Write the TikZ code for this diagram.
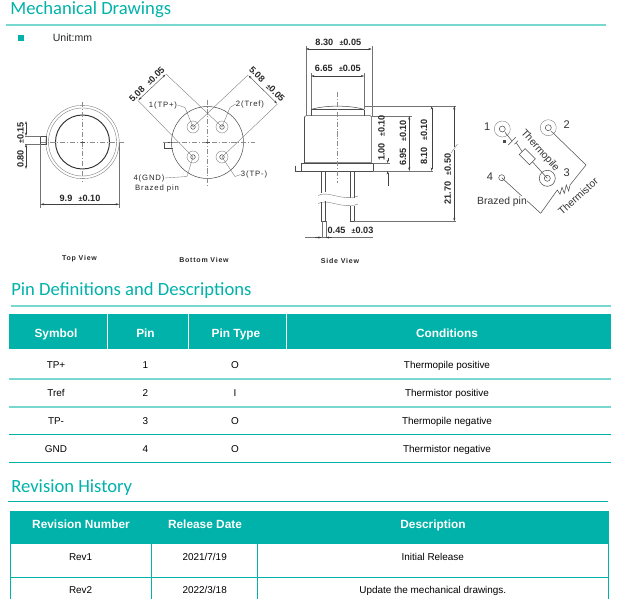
\documentclass[tikz,border=0pt]{standalone}
\usepackage{fontspec}
\setmainfont{Liberation Sans}
\newfontfamily\headfont{Carlito}
\newfontfamily\spacedfont[LetterSpace=11]{Liberation Sans}
\usetikzlibrary{arrows.meta}
\definecolor{tealmain}{RGB}{0,178,169}
\definecolor{teallight}{RGB}{120,216,208}
\newcommand{\tolsign}{\hspace{3.6pt}{\fontsize{4}{5}\selectfont ±}}
\tikzset{
  x=0.02cm,y=-0.02cm,
  heading/.style={anchor=west,inner sep=0pt,text=tealmain,font=\headfont\fontsize{10.6}{12}\selectfont},
  headcell/.style={inner sep=0pt,text=white,text height=5.8pt,text depth=1pt,font=\bfseries\fontsize{6.75}{8}\selectfont},
  bodycell/.style={inner sep=0pt,text=black,text height=5pt,text depth=1pt,font=\fontsize{5.65}{7}\selectfont},
  dimtext/.style={inner sep=0pt,text=black!85,font=\bfseries\fontsize{5.2}{6}\selectfont},
  labeltext/.style={inner sep=0pt,text=black!85,font=\spacedfont\fontsize{4.4}{5}\selectfont},
  viewtext/.style={inner sep=0pt,text=black!85,font=\spacedfont\bfseries\fontsize{4}{5}\selectfont},
  schemtext/.style={inner sep=0pt,text=black!80,font=\fontsize{5.9}{7}\selectfont},
  numtext/.style={inner sep=0pt,text=black!80,font=\fontsize{6.3}{7}\selectfont},
  thinline/.style={line width=0.2pt,draw=black!55},
  outline/.style={line width=0.3pt,draw=black!70},
  heavyline/.style={line width=0.55pt,draw=black!80},
  dimline/.style={line width=0.22pt,draw=black!75,{Stealth[length=2pt,width=1.2pt]}-{Stealth[length=2pt,width=1.2pt]}},
  tipline/.style={line width=0.22pt,draw=black!75,-{Stealth[length=2pt,width=1.2pt]}},
  axisline/.style={line width=0.18pt,draw=black!45,dash pattern=on 3pt off 1pt on 0.6pt off 1pt},
}
\begin{document}
\begin{tikzpicture}
\useasboundingbox (0,0) rectangle (619,599);

% Drawing section headings
\node [heading] (mechhead) at (10,10) {Mechanical Drawings};
\draw [teallight,line width=0.7pt] (6,25) -- (606,25);
\node [fill=tealmain,minimum size=3.4pt,inner sep=0pt] (unitmark) at (21,38) {};
\node [inner sep=0pt,text=black!85,font=\fontsize{6}{7}\selectfont] (unitlabel) at (72.5,38) {Unit:mm};
\node [heading] (pinhead) at (11,290.5) {Pin Definitions and Descriptions};
\draw [teallight,line width=0.7pt] (11,306) -- (611,306);
\node [heading] (revhead) at (11,487.5) {Revision History};
\draw [tealmain,line width=0.5pt] (7.5,501) -- (608,501);

% Drawing top view
\coordinate (topc) at (82.5,142);
\draw [thinline] (topc) circle (36.7);
\draw [thinline] (topc) circle (34);
\draw [heavyline] (topc) circle (27);
\draw [outline] (40.5,136) rectangle (46,144);
\draw [axisline] (topc) ++(-42,0) -- ++(84,0);
\draw [axisline] (topc) ++(0,-40) -- ++(0,80);
\draw [outline] (topc) ++(-2,0) -- ++(4,0);
\draw [thinline] (25,136) -- (41,136);
\draw [thinline] (25,144) -- (41,144);
\draw [dimline] (26,121) -- (26,136);
\draw [dimline] (26,169) -- (26,144);
\node [dimtext,rotate=90] (topheight) at (20.5,145) {0.80\tolsign0.15};
\draw [thinline] (40.5,144) -- (40.5,208);
\draw [thinline] (119.2,143) -- (119.2,208);
\draw [dimline] (40.5,204.3) -- (119.2,204.3);
\node [dimtext] (topwidth) at (80,198) {9.9\tolsign0.10};
\node [viewtext] (topview) at (79.5,259) {Top View};

% Drawing bottom view
\coordinate (botc) at (207.5,142.5);
\coordinate (pina) at (193,127);
\coordinate (pinb) at (222,127);
\coordinate (pinc) at (222,157);
\coordinate (pind) at (193,157);
\draw [outline] (botc) circle (36);
\draw [outline] (172,142) -- (164.5,142) -- (164.5,148.3) -- (173,148.3);
\draw [axisline] (botc) ++(-45,0) -- ++(92,0);
\draw [axisline] (botc) ++(0,-43) -- ++(0,86);
\draw [outline] (botc) ++(-2,0) -- ++(4,0);
\foreach \pinname in {pina,pinb,pinc,pind}{
  \draw [thinline] (\pinname) circle (6);
  \draw [outline] (\pinname) circle (2.3);
}
\draw [thinline] (166,74) -- (pinb);
\draw [thinline] (138,100.5) -- (pind);
\draw [thinline] (248,75) -- (pina);
\draw [thinline] (277.5,104) -- (pinc);
\draw [dimline] (138.5,100) -- (165.5,74.5);
\draw [dimline] (248.5,75.5) -- (277,103.5);
\node [dimtext,rotate=45] (leftpitch) at (146.8,84.5) {5.08\tolsign0.05};
\node [dimtext,rotate=-45] (rightpitch) at (267,84) {5.08\tolsign0.05};
\node [labeltext] (tpplus) at (163,105) {1(TP+)};
\node [labeltext] (tref) at (250,104) {2(Tref)};
\node [labeltext] (tpminus) at (254,174.5) {3(TP-)};
\node [labeltext] (gndlabel) at (149,178) {4(GND)};
\node [labeltext] (brazedlabel) at (157,188) {Brazed pin};
\draw [thinline] (tpplus.east) -- (185,107.5) -- (pina);
\draw [thinline] (tref.west) -- (230,107.5) -- (pinb);
\draw [thinline] (tpminus.west) -- (235,176.5) -- (pinc);
\draw [thinline] (gndlabel.east) -- (187,176.5) -- (pind);
\node [viewtext] (bottomview) at (204,260) {Bottom View};

% Drawing side view
\coordinate (domeleft) at (311,109.5);
\coordinate (domeright) at (364.3,109.5);
\draw [outline] (domeleft) .. controls (325,105) and (350,105) .. (domeright);
\draw [outline] (domeleft) -- (311,116);
\draw [outline] (domeright) -- (364.3,116);
\draw [outline] (311,109.5) -- (364.3,109.5);
\draw [outline] (304.5,163.3) -- (304.5,117) -- (306,115.7) -- (370.2,115.7) -- (371.7,117) -- (371.7,163.3);
\draw [draw=black!45,line width=0.6pt] (304.5,162.7) -- (371.7,162.7);
\draw [outline] (301,163.3) rectangle (373.3,171);
\draw [outline] (295,165.7) -- (295,171) -- (301,171);
\draw [axisline] (337.5,92) -- (337.5,183);
% Drawing leads and break
\draw [outline] (316.7,171.7) -- (329.3,171.7);
\draw [outline] (346,171.7) -- (358.3,171.7);
\draw [outline] (321.7,171.7) -- (321.7,193);
\draw [outline] (325.7,171.7) -- (325.7,192);
\draw [outline] (350.7,171.7) -- (350.7,198);
\draw [outline] (354.3,171.7) -- (354.3,197.5);
\draw [thinline] (318,195.5) .. controls (328,190) and (343,202) .. (358,196);
\draw [thinline] (318,203.5) .. controls (328,198) and (343,210) .. (358,204);
\draw [outline] (321.7,201.5) -- (321.7,221.3) -- (325.7,221.3) -- (325.7,200.5);
\draw [outline] (350.7,206) -- (350.7,221.3) -- (354.3,221.3) -- (354.3,205.5);
% Drawing side view dimensions
\draw [thinline] (305.7,116) -- (305.7,46);
\draw [thinline] (371.7,116) -- (371.7,46);
\draw [thinline] (311,109) -- (311,73);
\draw [thinline] (364.3,109) -- (364.3,73);
\draw [dimline] (305.7,49) -- (371.7,49);
\draw [dimline] (311,76) -- (364.3,76);
\node [dimtext] (widthouter) at (338.3,42) {8.30\tolsign0.05};
\node [dimtext] (widthinner) at (337.8,68) {6.65\tolsign0.05};
\draw [thinline] (364,106) -- (456,106);
\draw [thinline] (371.7,116) -- (412,116);
\draw [thinline] (373.3,171) -- (433,171);
\draw [thinline] (354.3,221.3) -- (456,221.3);
\draw [thinline] (373,163.3) -- (390,163.3);
\draw [tipline] (387.7,158) -- (387.7,163.3);
\draw [tipline] (387.7,186) -- (387.7,171);
\draw [dimline] (409.3,116) -- (409.3,171);
\draw [dimline] (431.7,106) -- (431.7,171);
\draw [tipline] (454.3,147) -- (454.3,106);
\draw [tipline] (454.3,149.5) -- (454.3,221.3);
\draw [thinline] (451,153) -- (457.5,144);
\node [dimtext,rotate=90] (heightcap) at (381.5,138) {1.00\tolsign0.10};
\node [dimtext,rotate=90] (heightbody) at (403,143) {6.95\tolsign0.10};
\node [dimtext,rotate=90] (heighttotal) at (424,142) {8.10\tolsign0.10};
\node [dimtext,rotate=90] (heightlead) at (447.7,179) {21.70\tolsign0.50};
\draw [thinline] (305,237.5) -- (373,237.5);
\draw [thinline] (321.7,221) -- (321.7,238);
\draw [thinline] (325.7,221) -- (325.7,238);
\draw [tipline] (315,237.5) -- (321.7,237.5);
\draw [tipline] (332,237.5) -- (325.7,237.5);
\node [dimtext] (leadwidth) at (350.5,230.5) {0.45\tolsign0.03};
\node [viewtext] (sideview) at (340,260.5) {Side View};

% Drawing pin schematic
\coordinate (schema) at (502.3,129);
\coordinate (schemb) at (548.3,127.7);
\coordinate (schemc) at (547.3,178.3);
\coordinate (schemd) at (501.7,177.7);
\draw [thinline] (schema) circle (8);
\draw [outline] (schema) circle (3);
\draw [thinline] (schemb) circle (8);
\draw [outline] (schemb) circle (3);
\draw [outline] (schemc) circle (8);
\draw [outline] (schemc) circle (3);
\draw [outline] (schemd) circle (3);
\node [numtext] (numa) at (487.3,126.7) {1};
\node [numtext] (numb) at (566.7,125) {2};
\node [numtext] (numc) at (566.7,172.7) {3};
\node [numtext] (numd) at (490,176.7) {4};
% Drawing thermopile branch
\draw [outline] (505,132.3) -- (512,141);
\draw [outline] (508.3,145) -- (515.7,137.3);
\draw [outline] (514.3,144.3) -- (518,140.7);
\node [draw=black!70,line width=0.3pt,rotate=-45,inner sep=0pt,minimum height=4.8pt,minimum width=8.3pt] (thermres) at (527.3,156.7) {};
\draw [outline] (thermres.east) -- (schemc);
\draw [outline] (thermres.west) -- (516.3,142.7);
\node [schemtext,rotate=-48] (thermopile) at (540,150.7) {Thermopile};
\node [fill=black!70,minimum size=1.6pt,inner sep=0pt] (plusmark) at (504.3,141.7) {};
% Drawing thermistor branch
\draw [outline] (schemb) ++(3,3.5) -- (586,165) -- (570,185) -- (568.7,191) -- (566.3,185) -- (564.3,193.3) -- (562,187.3) -- (560,194.3) -- (557.3,190) -- (540.7,213.3) -- (schemd);
\node [schemtext,rotate=42] (thermistor) at (578,196.5) {Thermistor};
\node [schemtext,fill=white,inner sep=0.3pt] (brazedpin) at (502,201.7) {Brazed pin};

% Drawing pin table
\fill [tealmain] (9,314) rectangle (107,349);
\fill [tealmain] (108,314) rectangle (187.7,349);
\fill [tealmain] (189,314) rectangle (285.7,349);
\fill [tealmain] (287,314) rectangle (611,349);
\node [headcell] (symbolhead) at (56,333) {Symbol};
\node [headcell] (pinnohead) at (145.5,333) {Pin};
\node [headcell] (pintypehead) at (236,333) {Pin Type};
\node [headcell] (condhead) at (447,333) {Conditions};
\node [bodycell] (symbola) at (56,365) {TP+};
\node [bodycell] (pinnoa) at (145.5,365) {1};
\node [bodycell] (typea) at (235,365) {O};
\node [bodycell] (conda) at (447,365) {Thermopile positive};
\node [bodycell] (symbolb) at (56,393) {Tref};
\node [bodycell] (pinnob) at (145.5,393) {2};
\node [bodycell] (typeb) at (235,393) {I};
\node [bodycell] (condb) at (447,393) {Thermistor positive};
\node [bodycell] (symbolc) at (56,421) {TP-};
\node [bodycell] (pinnoc) at (145.5,421) {3};
\node [bodycell] (typec) at (235,421) {O};
\node [bodycell] (condc) at (447,421) {Thermopile negative};
\node [bodycell] (symbold) at (56,449) {GND};
\node [bodycell] (pinnod) at (145.5,449) {4};
\node [bodycell] (typed) at (235,449) {O};
\node [bodycell] (condd) at (447,449) {Thermistor negative};
\draw [teallight,line width=0.7pt] (9,379) -- (611,379);
\draw [teallight,line width=0.6pt] (9,407) -- (611,407);
\draw [tealmain,line width=0.4pt] (9,434.7) -- (611,434.7);
\draw [tealmain,line width=0.5pt] (9,462.3) -- (611,462.3);

% Drawing revision table
\fill [tealmain] (10,511) rectangle (608.5,544);
\node [headcell] (revnohead) at (81,524) {Revision Number};
\node [headcell] (datehead) at (205,524) {Release Date};
\node [headcell] (deschead) at (433,524) {Description};
\node [bodycell] (reva) at (80.6,556.7) {Rev1};
\node [bodycell] (datea) at (204.7,556.7) {2021/7/19};
\node [bodycell] (desca) at (432.8,556.7) {Initial Release};
\node [bodycell] (revb) at (80.6,590) {Rev2};
\node [bodycell] (dateb) at (204.7,590) {2022/3/18};
\node [bodycell] (descb) at (432.8,590) {Update the mechanical drawings.};
\draw [tealmain,line width=0.45pt] (10,577) -- (608.5,577);
\draw [tealmain,line width=0.45pt] (10.2,544) -- (10.2,599);
\draw [tealmain,line width=0.45pt] (151.8,544) -- (151.8,599);
\draw [tealmain,line width=0.45pt] (257.7,544) -- (257.7,599);
\draw [tealmain,line width=0.45pt] (608.3,544) -- (608.3,599);
\end{tikzpicture}
\end{document}
